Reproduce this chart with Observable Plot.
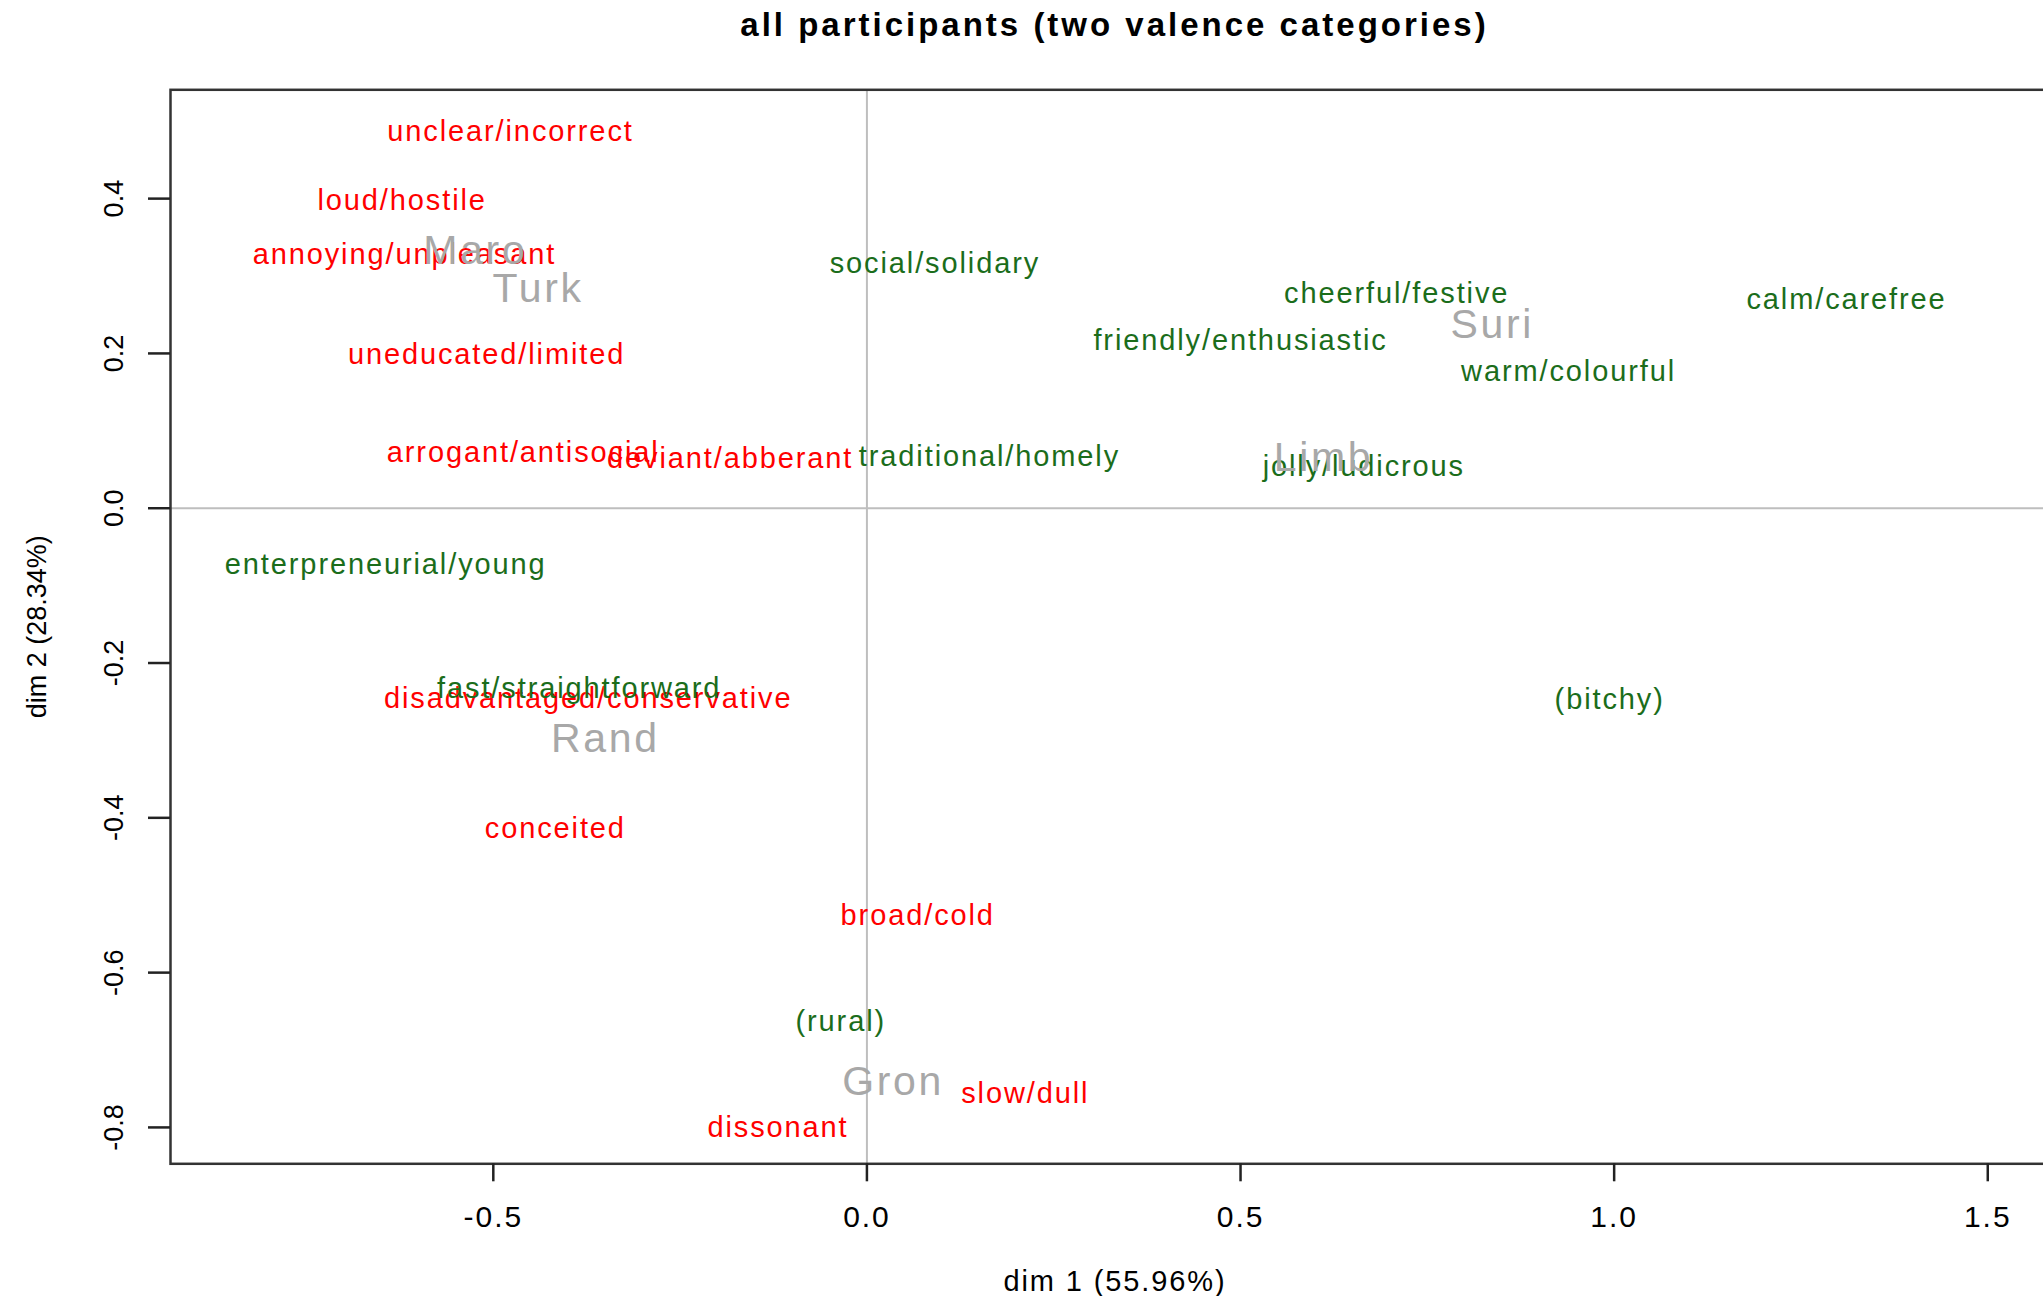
<!DOCTYPE html>
<html>
<head>
<meta charset="utf-8">
<script src="https://cdn.jsdelivr.net/npm/d3@7"></script>
<script src="https://cdn.jsdelivr.net/npm/@observablehq/plot@0.6"></script>
<style>
  html, body { margin: 0; padding: 0; background: #fff; overflow: hidden; width: 2043px; }
  #title {
    position: relative; width: 2043px; height: 60px; overflow: hidden;
  }
  #title div {
    position: absolute; left: 170px; top: 6px; width: 1889px;
    line-height: 46px; text-align: center; white-space: nowrap;
    font: bold 33px "Liberation Sans", Arial, sans-serif;
    letter-spacing: 3px; color: #000;
  }
  #chart { width: 2043px; height: 1236px; overflow: hidden; }
  #chart svg { max-width: none !important; }
  #chart svg text { letter-spacing: 0.065em; }
  #chart svg text[transform*="rotate"] { letter-spacing: 0; }
</style>
</head>
<body>
<div id="title"><div>all participants (two valence categories)</div></div>
<div id="chart"></div>
<script>
// Correspondence analysis map: attribute labels (negative / positive valence)
// and the six speaker varieties, on the first two dimensions.

const negLabels = ["unclear/incorrect", "loud/hostile", "annoying/unpleasant", "uneducated/limited",
  "arrogant/antisocial", "deviant/abberant", "disadvantaged/conservative", "conceited",
  "broad/cold", "slow/dull", "dissonant"];
const negDim1 = [-0.477, -0.622, -0.619, -0.509, -0.460, -0.183, -0.373, -0.417, 0.068, 0.212, -0.119];
const negDim2 = [0.486, 0.397, 0.328, 0.198, 0.072, 0.064, -0.246, -0.414, -0.527, -0.756, -0.801];

const posLabels = ["social/solidary", "cheerful/festive", "calm/carefree", "friendly/enthusiastic",
  "warm/colourful", "traditional/homely", "jolly/ludicrous", "enterpreneurial/young",
  "fast/straightforward", "(bitchy)", "(rural)"];
const posDim1 = [0.091, 0.709, 1.311, 0.500, 0.939, 0.164, 0.665, -0.644, -0.385, 0.994, -0.035];
const posDim2 = [0.316, 0.277, 0.270, 0.217, 0.176, 0.067, 0.054, -0.073, -0.233, -0.248, -0.663];

const varietyLabels = ["Maro", "Turk", "Suri", "Limb", "Rand", "Gron"];
const varietyDim1 = [-0.524, -0.440, 0.837, 0.611, -0.350, 0.035];
const varietyDim2 = [0.332, 0.283, 0.237, 0.065, -0.298, -0.741];

const xTicks = [-0.5, 0.0, 0.5, 1.0, 1.5];
const yTicks = [-0.8, -0.6, -0.4, -0.2, 0.0, 0.2, 0.4];
const xTitle = "dim 1 (55.96%)";
const yTitle = "dim 2 (28.34%)";

const rows = (labels, d1, d2) => labels.map((label, i) => ({label, x: d1[i], y: d2[i]}));
const negative = rows(negLabels, negDim1, negDim2);
const positive = rows(posLabels, posDim1, posDim2);
const varieties = rows(varietyLabels, varietyDim1, varietyDim2);

const fmt = d => d.toFixed(1);

// The plotting region runs slightly past the right edge of the page.
const chart = Plot.plot({
  width: 2080,
  height: 1236,
  marginLeft: 170,
  marginRight: 21,
  marginTop: 29.3,
  marginBottom: 132.7,
  style: {fontFamily: '"Liberation Sans", Arial, sans-serif', background: "#fff", color: "#000", maxWidth: "none"},
  x: {domain: [-0.932, 1.596]},
  y: {domain: [-0.847, 0.5406]},
  marks: [
    Plot.ruleY([0], {stroke: "#bebebe", strokeWidth: 2}),
    Plot.ruleX([0], {stroke: "#bebebe", strokeWidth: 2}),
    Plot.text(negative, {x: "x", y: "y", text: "label", fill: "#ff0000", fontSize: 29}),
    Plot.text(positive, {x: "x", y: "y", text: "label", fill: "#1b6d1b", fontSize: 29}),
    Plot.text(varieties, {x: "x", y: "y", text: "label", fill: "#a8a8a8", fontSize: 41}),
    Plot.frame({stroke: "#333", strokeWidth: 2.5}),
    Plot.axisX({ticks: xTicks, tickFormat: fmt, tickSize: 18, tickPadding: 24,
      fontSize: 30, stroke: "#222", strokeWidth: 2.5, fill: "#000", label: null}),
    Plot.axisY({ticks: yTicks, tickFormat: () => "", tickSize: 22,
      stroke: "#222", strokeWidth: 2.5, label: null}),
    Plot.text(yTicks, {y: d => d, text: fmt, frameAnchor: "left", dx: -56.5,
      rotate: -90, textAnchor: "middle", lineAnchor: "middle", fontSize: 27, fill: "#000"}),
    Plot.text([xTitle], {text: d => d, frameAnchor: "bottom", dy: 118.4,
      textAnchor: "middle", lineAnchor: "middle", fontSize: 29, fill: "#000"}),
    Plot.text([yTitle], {text: d => d, frameAnchor: "left", dx: -133.5, rotate: -90,
      textAnchor: "middle", lineAnchor: "middle", fontSize: 27, fill: "#000"})
  ]
});

document.getElementById("chart").append(chart);
</script>
</body>
</html>
